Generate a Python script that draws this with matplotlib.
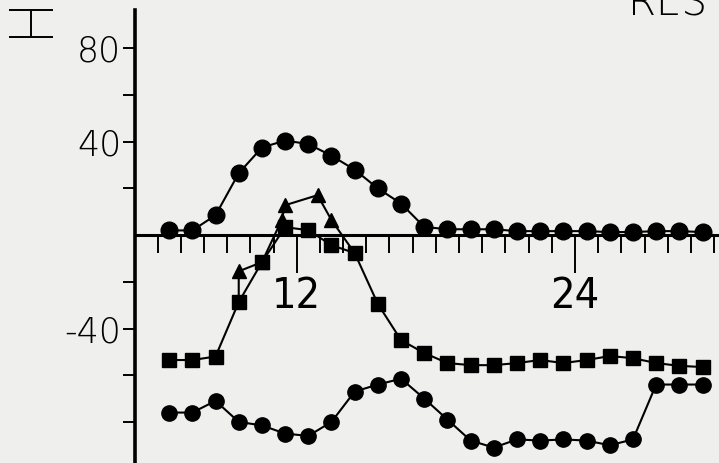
import matplotlib
matplotlib.use('Agg')
import matplotlib.pyplot as plt
from matplotlib import font_manager
from matplotlib.ticker import FixedLocator

# hours of day (marker positions, half-hour centred)
hours = [6.5 + i for i in range(24)]

circles_top = [2, 2, 8.5, 26.5, 37.5, 40.5, 39, 34, 28, 20, 13.5, 3.5,
               2.5, 2.5, 2.5, 1.7, 1.7, 1.7, 1.7, 1.3, 1.3, 1.7, 1.7, 1.3]

squares = [-53.5, -53.5, -52, -28.7, -11.6, 3.4, 2.1, -4.3, -7.7, -29.5, -45, -50.5,
           -54.8, -55.7, -55.7, -54.8, -53.5, -54.8, -53.5, -51.8, -52.7, -54.8, -56, -56.5]

circles_bottom = [-76, -76, -71, -80, -81.5, -85, -86, -80, -67, -64, -61.5, -70,
                  -79, -88, -91, -87.5, -88, -87.5, -88, -90, -87.5, -64, -64, -64]

# triangle branch leaves and rejoins the square series
tri_hours = [9.5, 9.5, 10.5, 11.35, 11.5, 12.9, 13.5, 14.5]
triangles = [-28.7, -15.5, -11.6, 6.4, 12.8, 17.1, 6.4, -7.7]

ytick_vals = [-80, -60, -40, -20, 20, 40, 60, 80]
ytick_labels = ['', '', '-40', '', '', '40', '', '80']
xmajor = [12, 24]
xminor = [h for h in range(6, 31) if h not in xmajor]

installed = {f.name for f in font_manager.fontManager.ttflist}
narrow = 'Liberation Sans Narrow' if 'Liberation Sans Narrow' in installed else 'DejaVu Sans'

bg = '#efefed'
fig = plt.figure(figsize=(7.19, 4.63), dpi=100, facecolor=bg)
ax = fig.add_axes([135 / 719, 0, 584 / 719, 1 - 10 / 463])
ax.set_facecolor(bg)
ax.set_xlim(5.027, 30.21)
ax.set_ylim(-97.6, 96.4)

ax.plot(tri_hours, triangles, '-', color='black', lw=1.5, marker='^', ms=10,
        markevery=[1, 2, 3, 4, 5, 6], zorder=3)
ax.plot(hours, squares, '-', color='black', lw=1.5, marker='s', ms=10.5, zorder=4)
ax.plot(hours, circles_top, '-', color='black', lw=1.5, marker='o', ms=12, zorder=4)
ax.plot(hours, circles_bottom, '-', color='black', lw=1.5, marker='o', ms=11, zorder=4)

# representative error bar, top left
ax.errorbar([0.54], [90.6], yerr=[5.8], color='black', lw=1.4, capsize=15.5,
            capthick=1.4, clip_on=False)

for side in ['top', 'right']:
    ax.spines[side].set_visible(False)
ax.spines['left'].set_linewidth(2.6)
ax.spines['bottom'].set_position(('data', 0))
ax.spines['bottom'].set_linewidth(2.2)

ax.yaxis.set_major_locator(FixedLocator(ytick_vals))
ax.set_yticklabels(ytick_labels)
ax.tick_params(axis='y', direction='out', length=9, width=1.4, pad=1,
               labelsize=25)
for lab in ax.get_yticklabels():
    lab.set_fontweight('light')

ax.set_xticks(xmajor)
ax.set_xticklabels([str(v) for v in xmajor])
ax.xaxis.set_minor_locator(FixedLocator(xminor))
ax.tick_params(axis='x', which='major', direction='out', length=27, width=1.4,
               pad=2, labelsize=31)
ax.tick_params(axis='x', which='minor', direction='out', length=13, width=1.4)
for lab in ax.get_xticklabels():
    lab.set_family(narrow)
    lab.set_fontweight('light')
    if narrow == 'DejaVu Sans':
        lab.set_fontstretch('condensed')

fig.text(628 / 719, 1 - 16 / 463, 'RES', fontsize=29, fontweight='light',
         va='baseline', ha='left')

fig.savefig('out.png', dpi=100, facecolor=bg)
